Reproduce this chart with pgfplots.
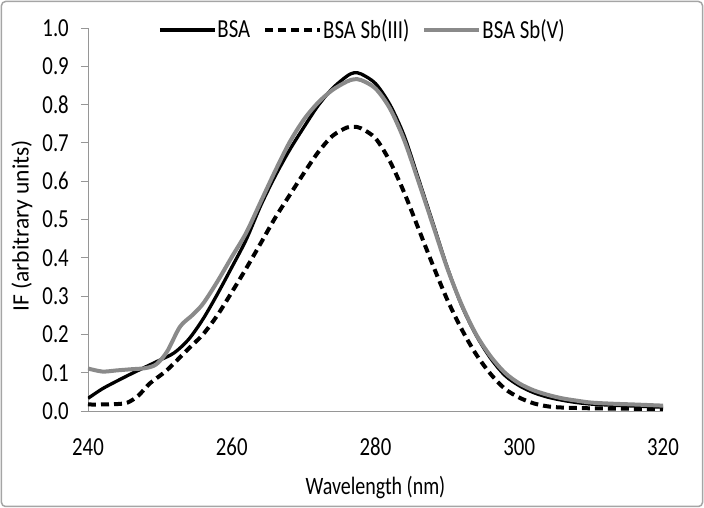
\documentclass[border=0pt]{standalone}
\usepackage{fontspec}
\setmainfont{Carlito}[FakeStretch=0.8]
\newfontfamily\ylabfont{Carlito}
\usepackage{pgfplots}
\usepackage{pgfplotstable}
\pgfplotsset{compat=1.18}
\definecolor{axgray}{RGB}{150,150,150}
\definecolor{curvegray}{RGB}{138,138,138}
\definecolor{framegray}{RGB}{165,165,165}

\pgfplotstableread{
x y
240 0.033
242 0.058
244 0.078
246 0.097
248 0.115
250 0.133
252 0.152
254 0.187
256 0.240
258 0.305
260 0.375
262 0.447
264 0.535
266 0.612
268 0.680
270 0.740
272 0.797
274 0.842
276 0.874
277 0.883
278 0.880
280 0.855
282 0.800
284 0.718
286 0.605
288 0.490
290 0.374
292 0.275
294 0.198
296 0.138
298 0.093
300 0.066
302 0.048
304 0.036
306 0.028
308 0.022
310 0.018
313 0.015
316 0.013
320 0.010
}\bsa

\pgfplotstableread{
x y
240 0.017
242 0.017
244 0.018
245.5 0.022
247 0.040
248.6 0.072
251 0.107
254 0.163
256 0.200
258 0.250
260 0.310
262 0.372
264 0.437
266 0.503
268 0.562
270 0.620
272 0.675
274 0.718
276 0.740
277 0.742
278 0.738
280 0.712
282 0.652
284 0.570
286 0.475
288 0.380
290 0.290
292 0.213
294 0.148
296 0.097
298 0.058
300 0.035
302 0.020
304 0.012
306 0.009
310 0.007
315 0.006
320 0.005
}\sbiii

\pgfplotstableread{
x y
240 0.111
242 0.103
244 0.106
246 0.109
248 0.112
249.5 0.122
251 0.155
252.8 0.220
254.5 0.250
256 0.280
258 0.338
260 0.402
262 0.465
264 0.545
266 0.625
268 0.700
270 0.760
272 0.805
274 0.838
276 0.860
277 0.866
278 0.864
280 0.842
282 0.790
284 0.707
286 0.598
288 0.485
290 0.372
292 0.277
294 0.200
296 0.143
298 0.100
300 0.072
302 0.054
304 0.042
306 0.033
308 0.027
310 0.022
313 0.019
316 0.017
320 0.014
}\sbv

\begin{document}
\begin{tikzpicture}
\begin{axis}[
  scale only axis,
  width=575pt, height=383pt,
  xmin=240, xmax=320, ymin=0, ymax=1,
  axis lines=left,
  axis line style={axgray, line width=0.8pt, -},
  xtick={240,260,...,320},
  ytick={0,0.1,...,1.0},
  x tick style={draw=none},
  y tick style={axgray, line width=0.8pt},
  tick align=outside,
  major tick length=7pt,
  font=\fontsize{26}{30}\selectfont,
  /pgf/number format/assume math mode=true,
  yticklabel style={/pgf/number format/fixed, /pgf/number format/fixed zerofill, /pgf/number format/precision=1},
  y tick label style={anchor=east, inner sep=0pt, xshift=-12pt},
  x tick label style={anchor=north, inner sep=0pt, yshift=-20pt},
  xlabel={Wavelength (nm)},
  xlabel style={at={(axis description cs:0.5,0)}, anchor=center, yshift=-77pt, font=\fontsize{25}{30}\selectfont},
  ylabel={IF (arbitrary units)},
  ylabel style={at={(axis description cs:0,0.483)}, anchor=center, yshift=66pt, font=\ylabfont\fontsize{23.5}{28}\selectfont},
  legend columns=-1,
  legend style={at={(axis description cs:0.4765,0.995)}, anchor=center, draw=none, fill=none,
    font=\fontsize{26}{30}\selectfont, nodes={inner sep=1pt},
    /tikz/every even column/.append style={column sep=12pt}},
  legend image code/.code={\draw[#1] (0pt,0pt) -- (55pt,0pt);},
]
\addplot[black, line width=3.3pt, smooth] table[x=x,y=y]{\bsa};
\addlegendentry{BSA}
\addplot[black, line width=4pt, smooth, dash pattern=on 8pt off 5pt] table[x=x,y=y]{\sbiii};
\addlegendentry{BSA Sb(III)}
\addplot[curvegray, line width=4pt, smooth] table[x=x,y=y]{\sbv};
\addlegendentry{BSA Sb(V)}
\end{axis}
\pgfresetboundingbox
\draw[framegray, line width=1.5pt, rounded corners=4pt] (-86.5pt,-95.5pt) rectangle (614.5pt,409.5pt);
\path[use as bounding box] (-88pt,-97pt) rectangle (616pt,411pt);
\end{tikzpicture}
\end{document}
